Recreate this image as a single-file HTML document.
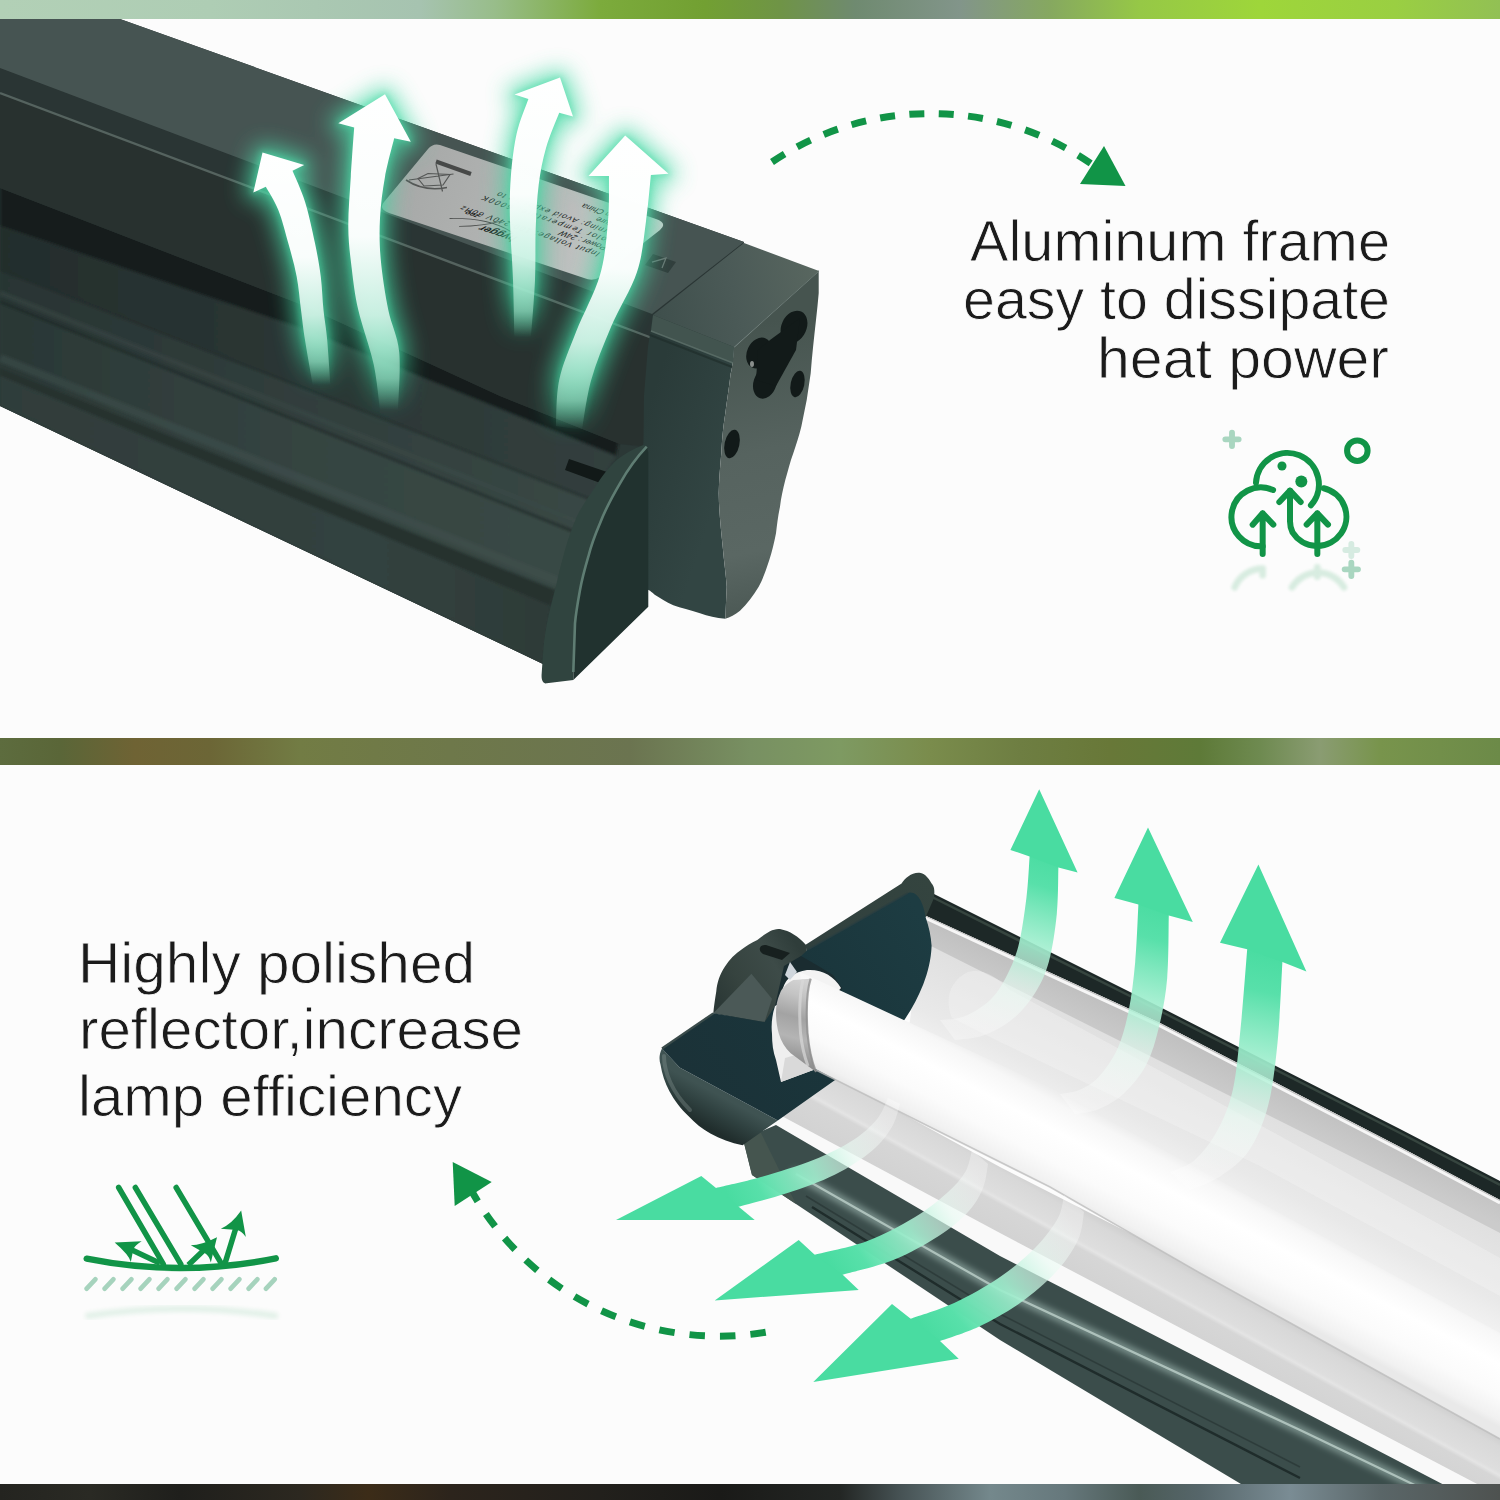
<!DOCTYPE html>
<html>
<head>
<meta charset="utf-8">
<title>Lamp features</title>
<style>
html,body{margin:0;padding:0;background:#fcfcfc;}
body{width:1500px;height:1500px;overflow:hidden;font-family:"Liberation Sans",sans-serif;}
svg{display:block;position:absolute;left:0;top:0;}
text{font-family:"Liberation Sans",sans-serif;fill:#1b1b1b;}
</style>
</head>
<body>
<svg width="1500" height="1500" viewBox="0 0 1500 1500">
<defs>
<linearGradient id="bandTop" x1="0" x2="1" y1="0" y2="0">
<stop offset="0" stop-color="#b2d0b6"/><stop offset="0.14" stop-color="#aecdb4"/><stop offset="0.28" stop-color="#a6c3b0"/>
<stop offset="0.33" stop-color="#98bd8a"/><stop offset="0.40" stop-color="#7cab3c"/><stop offset="0.47" stop-color="#72a032"/>
<stop offset="0.52" stop-color="#6f9446"/><stop offset="0.57" stop-color="#6f8a70"/><stop offset="0.64" stop-color="#82958a"/>
<stop offset="0.70" stop-color="#86a860"/><stop offset="0.76" stop-color="#96c846"/><stop offset="0.84" stop-color="#9ed63a"/>
<stop offset="0.93" stop-color="#9acf42"/><stop offset="1" stop-color="#92c054"/>
</linearGradient>
<linearGradient id="bandMid" x1="0" x2="1" y1="0" y2="0">
<stop offset="0" stop-color="#5d6c3e"/><stop offset="0.04" stop-color="#5a6638"/><stop offset="0.09" stop-color="#6f6334"/>
<stop offset="0.14" stop-color="#6c6636"/><stop offset="0.20" stop-color="#727c44"/><stop offset="0.30" stop-color="#6e784a"/>
<stop offset="0.42" stop-color="#6b7450"/><stop offset="0.50" stop-color="#789062"/><stop offset="0.56" stop-color="#7e9a62"/>
<stop offset="0.62" stop-color="#7a8c4c"/><stop offset="0.68" stop-color="#6e7e42"/><stop offset="0.74" stop-color="#687838"/>
<stop offset="0.80" stop-color="#5e7a38"/><stop offset="0.84" stop-color="#6e8a50"/><stop offset="0.88" stop-color="#8a9c72"/>
<stop offset="0.92" stop-color="#78944c"/><stop offset="1" stop-color="#6c8a48"/>
</linearGradient>
<linearGradient id="bandBot" x1="0" x2="1" y1="0" y2="0">
<stop offset="0" stop-color="#242420"/><stop offset="0.06" stop-color="#2a2a24"/><stop offset="0.12" stop-color="#1f1f1c"/>
<stop offset="0.20" stop-color="#2c2820"/><stop offset="0.245" stop-color="#3c2c18"/><stop offset="0.30" stop-color="#2c241c"/>
<stop offset="0.40" stop-color="#22201c"/><stop offset="0.48" stop-color="#1a1a18"/><stop offset="0.56" stop-color="#232624"/>
<stop offset="0.60" stop-color="#465254"/><stop offset="0.66" stop-color="#74888c"/><stop offset="0.71" stop-color="#66787c"/>
<stop offset="0.76" stop-color="#4a5a56"/><stop offset="0.80" stop-color="#56666a"/><stop offset="0.86" stop-color="#7a8c94"/>
<stop offset="0.92" stop-color="#5a6668"/><stop offset="1" stop-color="#4e5250"/>
</linearGradient>
</defs>
<rect x="0" y="0" width="1500" height="1500" fill="#fcfcfc"/>
<!-- ===== TOP LAMP ===== -->
<defs>
<linearGradient id="gA" gradientUnits="userSpaceOnUse" x1="0" y1="0" x2="620" y2="0"><stop offset="0" stop-color="#232d2c"/><stop offset="1" stop-color="#323f3d"/></linearGradient>
<linearGradient id="gB" gradientUnits="userSpaceOnUse" x1="0" y1="0" x2="620" y2="0"><stop offset="0" stop-color="#283433"/><stop offset="1" stop-color="#394845"/></linearGradient>
<linearGradient id="gC" gradientUnits="userSpaceOnUse" x1="0" y1="0" x2="620" y2="0"><stop offset="0" stop-color="#2a3735"/><stop offset="0.5" stop-color="#354441"/><stop offset="1" stop-color="#394945"/></linearGradient>
<linearGradient id="gD" gradientUnits="userSpaceOnUse" x1="0" y1="0" x2="620" y2="0"><stop offset="0" stop-color="#2f3c3a"/><stop offset="0.6" stop-color="#33423f"/><stop offset="1" stop-color="#2a3734"/></linearGradient>
<linearGradient id="capSide" gradientUnits="userSpaceOnUse" x1="730" y1="330" x2="790" y2="600"><stop offset="0" stop-color="#46544f"/><stop offset="0.45" stop-color="#56635f"/><stop offset="0.8" stop-color="#5a6763"/><stop offset="1" stop-color="#4d5a56"/></linearGradient>
<linearGradient id="capFront" gradientUnits="userSpaceOnUse" x1="650" y1="400" x2="740" y2="430"><stop offset="0" stop-color="#2a3b39"/><stop offset="1" stop-color="#324543"/></linearGradient>
<linearGradient id="capTop" gradientUnits="userSpaceOnUse" x1="655" y1="315" x2="815" y2="275"><stop offset="0" stop-color="#3f4f4c"/><stop offset="0.5" stop-color="#4b5a57"/><stop offset="1" stop-color="#58665f"/></linearGradient>
<linearGradient id="label" gradientUnits="userSpaceOnUse" x1="400" y1="170" x2="650" y2="255"><stop offset="0" stop-color="#a6a8a7"/><stop offset="0.5" stop-color="#b3b5b4"/><stop offset="1" stop-color="#cbcdcc"/></linearGradient>
<filter id="b1" x="-5%" y="-5%" width="110%" height="110%"><feGaussianBlur stdDeviation="1.6"/></filter>
<filter id="b3" x="-10%" y="-10%" width="120%" height="120%"><feGaussianBlur stdDeviation="3"/></filter>
<clipPath id="housingClip"><polygon points="0,188 300,304 500,396 620,444 646,448 618,462 595,492 579,518 567,551 558,584 550,617 545,650 543,664 0,406"/></clipPath>
</defs>
<g id="toplamp">
<polygon points="0,19 120,19 744,242 734,347 652,338 648,450 618,462 595,492 579,518 567,551 558,584 550,617 545,650 543,664 0,406" fill="#2a3534"/>
<polygon points="0,188 300,304 500,396 620,444 646,448 618,462 595,492 579,518 567,551 558,584 550,617 545,650 543,664 0,406" fill="#2b3836"/>
<g clip-path="url(#housingClip)"><g filter="url(#b1)">
<polygon points="0,178 300,294 500,386 620,434 616,456 500,409 300,328 0,226" fill="#161e1d"/>
<polygon points="0,226 300,328 500,409 616,456 590,500 0,270" fill="url(#gA)"/>
<polygon points="0,270 590,500 573,532 0,302" fill="url(#gB)"/>
<polygon points="0,302 573,532 556,590 0,368" fill="url(#gC)"/>
<polygon points="0,368 556,590 551,606 0,376" fill="#26322f"/>
<polygon points="0,376 551,606 543,664 0,406" fill="url(#gD)"/>
<path d="M0 270 L600 503" stroke="#1f2928" stroke-width="2" fill="none" opacity="0.7"/>
<path d="M0 302 L580 534" stroke="#1d2726" stroke-width="2.5" fill="none" opacity="0.8"/>
<path d="M0 293 L584 524" stroke="#3b4a48" stroke-width="5" fill="none" opacity="0.5"/>
<path d="M0 358 L560 582" stroke="#435451" stroke-width="8" fill="none" opacity="0.45"/>
</g></g>
<!-- slot near fin -->
<polygon points="569,459 607,472 603,484 565,470" fill="#121918"/>
<!-- front face -->
<polygon points="0,93 652,338 643,446 620,444 500,396 300,304 0,188" fill="#28312f"/>
<!-- lip -->
<polygon points="0,68 652,314 652,338 0,93" fill="#2a3534"/>
<path d="M0 93 L652 338" stroke="#55635f" stroke-width="2.4" fill="none"/>
<!-- top surface -->
<polygon points="0,19 120,19 744,242 652,314 0,68" fill="#465452"/>
<!-- label -->
<path d="M440 145 L656 219 Q668 223 660 230 L600 277 Q593 282 584 278 L389 213 Q378 209 384 202 L428 149 Q433 143 440 145Z" fill="url(#label)"/>
<!-- label print -->
<g transform="matrix(-0.9465 -0.3225 0.75 -0.66 592 278)" font-size="8.6" style="font-family:'Liberation Sans',sans-serif">
<text x="15" y="31" fill="#727473" textLength="146" lengthAdjust="spacing">Input Voltage: 100-240V 60Hz</text>
<text x="15" y="40.5" fill="#727473">Power : 24W</text>
<text x="15" y="50" fill="#727473" textLength="138" lengthAdjust="spacing">Color Temperature: 6000K</text>
<text x="15" y="59.5" fill="#727473" textLength="130" lengthAdjust="spacing">Warning: Avoid exposure to</text>
<text x="15" y="69" fill="#727473">moisture</text>
<text x="15" y="78.5" fill="#727473">Made in China</text>
<text x="92" y="17" font-size="11" font-weight="bold" font-style="italic" fill="#4c4e4d">hygger</text>
<text x="140" y="27" font-size="7.5" font-weight="bold" font-style="italic" fill="#4c4e4d">zoo</text>
<path d="M100 20 Q130 28 160 12 M118 29 Q128 16 146 7" stroke="#4c4e4d" stroke-width="1.1" fill="none"/>
</g>
<g stroke="#555756" fill="none" stroke-width="1.2">
<path d="M436 161.5 L471 174" stroke-width="4" stroke="#474948"/>
<path d="M436 164 L442.5 191.5 M453.5 174 L409 180"/>
<path d="M418 178.5 L428 173.5 L450 174.5 L443 185 L424 186Z"/>
<path d="M406 180 Q424 192 447 187.5" stroke-width="1.6"/>
</g>
<!-- small square embossed mark -->
<polygon points="653,254 676,262 668,273 645,265" fill="#323f3d"/>
<path d="M652 262 L666 258 L662 268" stroke="#6a7774" stroke-width="1.3" fill="none"/>
<!-- end cap front-left face -->
<path d="M653 315 L734 347 C733 360 732 370 730.7 373.3 C729 388 727 400 725.3 413.3 C723 428 722 440 721.3 453.3 C720 468 719 480 718.7 493.3 C719 512 721 530 722.7 546.7 C724 562 726 575 726.7 586.7 L725.3 618.7 C716 618 708 616 700 613.3 C690 610 681 608 673.3 605.3 C666 602 660 598 654.7 594.7 C650 591 648 588 642 590 L644 396 L648 347Z" fill="url(#capFront)"/>
<!-- end cap right face -->
<path d="M734 347 L818.7 270.7 L818.7 293.3 C818 302 817 311 816 320 C814 338 812 356 810.7 373.3 L806.7 400 L801.3 426.7 C799 436 796 445 793.3 453.3 C790 462 788 471 785.3 480 C783 489 781 498 780 506.7 C778 516 777 525 776 533.3 C774 543 772 552 769.3 560 C766 570 763 579 758.7 586.7 C753 596 747 604 740 610.7 C735 615 730 617 725.3 618.7 L726.7 586.7 C726 575 724 562 722.7 546.7 C721 530 719 512 718.7 493.3 C719 480 720 468 721.3 453.3 C722 440 723 428 725.3 413.3 C727 400 729 388 730.7 373.3 C732 370 733 360 734 347Z" fill="url(#capSide)"/>
<path d="M734 347 L818.7 270.7" stroke="#7f8d8a" stroke-width="1.2" fill="none"/>
<!-- end cap top -->
<polygon points="653,315 744,243 819,271 734,347" fill="url(#capTop)"/>
<path d="M653 315 L734 347 L733 363 L651 331Z" fill="#42544f"/>
<path d="M651 331 L733 363" stroke="#5c6f68" stroke-width="1.6" fill="none" opacity="0.85"/>
<path d="M650 335 L732 367" stroke="#1f2d2b" stroke-width="2" fill="none" opacity="0.7"/>
<!-- holes -->
<g fill="#121a19">
<ellipse cx="794" cy="327" rx="12.5" ry="17" transform="rotate(25 794 327)"/>
<ellipse cx="759" cy="353" rx="12" ry="16" transform="rotate(25 759 353)"/>
<ellipse cx="765" cy="383" rx="11.5" ry="16" transform="rotate(18 765 383)"/>
<path d="M770 340 L800 318 L796 350 L776 386 L756 380 L758 350Z"/>
<ellipse cx="797.5" cy="384" rx="6.8" ry="13.5" transform="rotate(12 797.5 384)"/>
<ellipse cx="732" cy="444" rx="7.4" ry="14.5" transform="rotate(12 732 444)"/>
</g>
<ellipse cx="752" cy="364" rx="2" ry="3" fill="#8a8f8c"/>
<!-- fin -->
<path d="M646.7 446.7 C636 458 627 471 620 483.3 C612 497 605 510 600 523.3 C595 535 591 546 588.3 556.7 C585 568 582 579 580 590 C578 601 576 612 575 623.3 L573.3 670 L573.3 680 L648.3 606.7 L648.3 452Z" fill="#21322f"/>
<path d="M643.3 445 C633 449 624 454 616.7 460 C607 469 600 479 593.3 490 C587 499 581 508 576.7 516.7 C572 528 568 539 565 550 C562 561 559 572 556.7 583.3 C554 594 551 605 548.3 616.7 C546 628 544 639 543.3 650 L541.7 673.3 C541 680 543 684 546.7 683.3 L573.3 680 L573.3 670 L575 623.3 C576 612 578 601 580 590 C582 579 585 568 588.3 556.7 C591 546 595 535 600 523.3 C605 510 612 497 620 483.3 C627 471 636 458 646.7 446.7Z" fill="#30443f"/>
<path d="M646.7 446.7 C636 458 627 471 620 483.3 C612 497 605 510 600 523.3 C595 535 591 546 588.3 556.7 C585 568 582 579 580 590 C578 601 576 612 575 623.3 L573.3 672" stroke="#5f7d73" stroke-width="2.6" fill="none"/>
</g>
<!-- ===== glowing arrows ===== -->
<defs>
<filter id="glowBlur" x="-40%" y="-15%" width="180%" height="130%"><feGaussianBlur stdDeviation="11"/></filter>
<filter id="glowBlur2" x="-40%" y="-15%" width="180%" height="130%"><feGaussianBlur stdDeviation="3"/></filter>
<linearGradient id="aw0" gradientUnits="userSpaceOnUse" x1="0" y1="152" x2="0" y2="385"><stop offset="0" stop-color="#ffffff" stop-opacity="1"/><stop offset="0.45" stop-color="#ffffff" stop-opacity="0.97"/><stop offset="0.7" stop-color="#e9fbf4" stop-opacity="0.8"/><stop offset="0.9" stop-color="#b9f0da" stop-opacity="0.5"/><stop offset="1" stop-color="#8fe6c4" stop-opacity="0"/></linearGradient>
<linearGradient id="ag0" gradientUnits="userSpaceOnUse" x1="0" y1="152" x2="0" y2="385"><stop offset="0" stop-color="#4fdcaa" stop-opacity="1"/><stop offset="0.8" stop-color="#43d3a0" stop-opacity="0.95"/><stop offset="1" stop-color="#2fcf96" stop-opacity="0"/></linearGradient>
<linearGradient id="aw1" gradientUnits="userSpaceOnUse" x1="0" y1="94" x2="0" y2="410"><stop offset="0" stop-color="#ffffff" stop-opacity="1"/><stop offset="0.45" stop-color="#ffffff" stop-opacity="0.97"/><stop offset="0.7" stop-color="#e9fbf4" stop-opacity="0.8"/><stop offset="0.9" stop-color="#b9f0da" stop-opacity="0.5"/><stop offset="1" stop-color="#8fe6c4" stop-opacity="0"/></linearGradient>
<linearGradient id="ag1" gradientUnits="userSpaceOnUse" x1="0" y1="94" x2="0" y2="410"><stop offset="0" stop-color="#4fdcaa" stop-opacity="1"/><stop offset="0.8" stop-color="#43d3a0" stop-opacity="0.95"/><stop offset="1" stop-color="#2fcf96" stop-opacity="0"/></linearGradient>
<linearGradient id="aw2" gradientUnits="userSpaceOnUse" x1="0" y1="78" x2="0" y2="337"><stop offset="0" stop-color="#ffffff" stop-opacity="1"/><stop offset="0.45" stop-color="#ffffff" stop-opacity="0.97"/><stop offset="0.7" stop-color="#e9fbf4" stop-opacity="0.8"/><stop offset="0.9" stop-color="#b9f0da" stop-opacity="0.5"/><stop offset="1" stop-color="#8fe6c4" stop-opacity="0"/></linearGradient>
<linearGradient id="ag2" gradientUnits="userSpaceOnUse" x1="0" y1="78" x2="0" y2="337"><stop offset="0" stop-color="#4fdcaa" stop-opacity="1"/><stop offset="0.8" stop-color="#43d3a0" stop-opacity="0.95"/><stop offset="1" stop-color="#2fcf96" stop-opacity="0"/></linearGradient>
<linearGradient id="aw3" gradientUnits="userSpaceOnUse" x1="0" y1="136" x2="0" y2="430"><stop offset="0" stop-color="#ffffff" stop-opacity="1"/><stop offset="0.45" stop-color="#ffffff" stop-opacity="0.97"/><stop offset="0.7" stop-color="#e9fbf4" stop-opacity="0.8"/><stop offset="0.9" stop-color="#b9f0da" stop-opacity="0.5"/><stop offset="1" stop-color="#8fe6c4" stop-opacity="0"/></linearGradient>
<linearGradient id="ag3" gradientUnits="userSpaceOnUse" x1="0" y1="136" x2="0" y2="430"><stop offset="0" stop-color="#4fdcaa" stop-opacity="1"/><stop offset="0.8" stop-color="#43d3a0" stop-opacity="0.95"/><stop offset="1" stop-color="#2fcf96" stop-opacity="0"/></linearGradient>
</defs>
<g id="glowArrows">
<g filter="url(#glowBlur)" opacity="0.8">
<path d="M265.8 186.7 C267.9 190.6 274.6 200.6 278.3 210.0 C282.1 219.4 285.2 232.2 288.3 243.3 C291.4 254.4 294.6 265.6 296.7 276.7 C298.8 287.8 299.6 299.4 301.0 310.0 C302.4 320.6 303.0 327.5 305.0 340.0 C307.0 352.5 311.5 377.5 312.8 385.0 L330.4 385.0 C329.9 377.5 328.3 352.5 327.2 340.0 C326.1 327.5 324.6 320.6 323.5 310.0 C322.4 299.4 322.2 287.8 320.8 276.7 C319.4 265.6 317.6 255.8 315.0 243.3 C312.4 230.8 308.8 213.8 305.0 201.7 C301.2 189.6 294.6 176.0 292.5 170.8 L292.5 170.8 L304.2 165.0 L262.5 152.5 L253.3 192.5 L265.8 186.7Z" fill="url(#ag0)" stroke="url(#ag0)" stroke-width="16" stroke-linejoin="round"/>
<path d="M354.2 127.5 C353.6 135.7 351.8 160.2 350.8 176.7 C349.8 193.2 348.2 211.4 348.3 226.7 C348.4 242.0 350.0 254.4 351.7 268.3 C353.4 282.2 354.6 294.1 358.3 310.0 C362.0 325.9 370.0 347.3 373.6 364.0 C377.2 380.7 378.9 402.3 380.0 410.0 L398.0 410.0 C398.2 400.3 400.8 368.7 399.2 352.0 C397.6 335.3 391.4 325.3 388.3 310.0 C385.2 294.7 382.2 275.3 380.8 260.0 C379.4 244.7 379.3 232.2 380.0 218.3 C380.7 204.4 382.6 190.0 385.0 176.7 C387.4 163.4 392.7 144.7 394.2 138.3 L394.2 138.3 L410.8 141.7 L385.0 94.2 L338.3 123.3 L354.2 127.5Z" fill="url(#ag1)" stroke="url(#ag1)" stroke-width="16" stroke-linejoin="round"/>
<path d="M528.4 98.9 C526.5 104.6 519.6 120.2 516.7 133.3 C513.8 146.4 511.9 162.6 510.8 177.3 C509.7 192.0 509.6 204.2 510.0 221.3 C510.4 238.4 512.3 260.7 513.0 280.0 C513.7 299.3 514.2 327.5 514.4 337.0 L531.0 337.0 C531.7 327.5 534.2 298.1 535.0 280.0 C535.8 261.9 535.1 244.6 535.7 228.7 C536.3 212.8 537.0 198.1 538.7 184.7 C540.4 171.2 542.6 160.0 546.0 148.0 C549.4 136.0 557.0 118.7 559.2 112.8 L559.2 112.8 L573.0 116.5 L560.0 77.6 L514.5 94.5 L528.4 98.9Z" fill="url(#ag2)" stroke="url(#ag2)" stroke-width="16" stroke-linejoin="round"/>
<path d="M609.0 175.9 C608.8 183.5 609.5 204.8 608.0 221.3 C606.5 237.8 605.3 256.6 600.0 275.0 C594.7 293.4 582.8 314.5 576.0 332.0 C569.2 349.5 562.5 364.3 559.2 380.0 C555.9 395.7 556.5 418.3 556.0 426.0 L582.0 430.0 C583.5 421.7 586.4 397.2 591.2 380.0 C596.0 362.8 603.4 345.0 611.0 327.0 C618.6 309.0 631.2 289.6 637.0 272.0 C642.8 254.4 643.7 237.5 646.0 221.3 C648.3 205.2 650.1 182.8 650.9 175.1 L650.9 175.1 L668.5 173.7 L625.2 135.5 L588.5 175.9 L609.0 175.9Z" fill="url(#ag3)" stroke="url(#ag3)" stroke-width="16" stroke-linejoin="round"/>
</g>
<g filter="url(#glowBlur2)" opacity="0.5">
<path d="M265.8 186.7 C267.9 190.6 274.6 200.6 278.3 210.0 C282.1 219.4 285.2 232.2 288.3 243.3 C291.4 254.4 294.6 265.6 296.7 276.7 C298.8 287.8 299.6 299.4 301.0 310.0 C302.4 320.6 303.0 327.5 305.0 340.0 C307.0 352.5 311.5 377.5 312.8 385.0 L330.4 385.0 C329.9 377.5 328.3 352.5 327.2 340.0 C326.1 327.5 324.6 320.6 323.5 310.0 C322.4 299.4 322.2 287.8 320.8 276.7 C319.4 265.6 317.6 255.8 315.0 243.3 C312.4 230.8 308.8 213.8 305.0 201.7 C301.2 189.6 294.6 176.0 292.5 170.8 L292.5 170.8 L304.2 165.0 L262.5 152.5 L253.3 192.5 L265.8 186.7Z" fill="url(#ag0)" stroke="url(#ag0)" stroke-width="4" stroke-linejoin="round"/>
<path d="M354.2 127.5 C353.6 135.7 351.8 160.2 350.8 176.7 C349.8 193.2 348.2 211.4 348.3 226.7 C348.4 242.0 350.0 254.4 351.7 268.3 C353.4 282.2 354.6 294.1 358.3 310.0 C362.0 325.9 370.0 347.3 373.6 364.0 C377.2 380.7 378.9 402.3 380.0 410.0 L398.0 410.0 C398.2 400.3 400.8 368.7 399.2 352.0 C397.6 335.3 391.4 325.3 388.3 310.0 C385.2 294.7 382.2 275.3 380.8 260.0 C379.4 244.7 379.3 232.2 380.0 218.3 C380.7 204.4 382.6 190.0 385.0 176.7 C387.4 163.4 392.7 144.7 394.2 138.3 L394.2 138.3 L410.8 141.7 L385.0 94.2 L338.3 123.3 L354.2 127.5Z" fill="url(#ag1)" stroke="url(#ag1)" stroke-width="4" stroke-linejoin="round"/>
<path d="M528.4 98.9 C526.5 104.6 519.6 120.2 516.7 133.3 C513.8 146.4 511.9 162.6 510.8 177.3 C509.7 192.0 509.6 204.2 510.0 221.3 C510.4 238.4 512.3 260.7 513.0 280.0 C513.7 299.3 514.2 327.5 514.4 337.0 L531.0 337.0 C531.7 327.5 534.2 298.1 535.0 280.0 C535.8 261.9 535.1 244.6 535.7 228.7 C536.3 212.8 537.0 198.1 538.7 184.7 C540.4 171.2 542.6 160.0 546.0 148.0 C549.4 136.0 557.0 118.7 559.2 112.8 L559.2 112.8 L573.0 116.5 L560.0 77.6 L514.5 94.5 L528.4 98.9Z" fill="url(#ag2)" stroke="url(#ag2)" stroke-width="4" stroke-linejoin="round"/>
<path d="M609.0 175.9 C608.8 183.5 609.5 204.8 608.0 221.3 C606.5 237.8 605.3 256.6 600.0 275.0 C594.7 293.4 582.8 314.5 576.0 332.0 C569.2 349.5 562.5 364.3 559.2 380.0 C555.9 395.7 556.5 418.3 556.0 426.0 L582.0 430.0 C583.5 421.7 586.4 397.2 591.2 380.0 C596.0 362.8 603.4 345.0 611.0 327.0 C618.6 309.0 631.2 289.6 637.0 272.0 C642.8 254.4 643.7 237.5 646.0 221.3 C648.3 205.2 650.1 182.8 650.9 175.1 L650.9 175.1 L668.5 173.7 L625.2 135.5 L588.5 175.9 L609.0 175.9Z" fill="url(#ag3)" stroke="url(#ag3)" stroke-width="4" stroke-linejoin="round"/>
</g>
<path d="M265.8 186.7 C267.9 190.6 274.6 200.6 278.3 210.0 C282.1 219.4 285.2 232.2 288.3 243.3 C291.4 254.4 294.6 265.6 296.7 276.7 C298.8 287.8 299.6 299.4 301.0 310.0 C302.4 320.6 303.0 327.5 305.0 340.0 C307.0 352.5 311.5 377.5 312.8 385.0 L330.4 385.0 C329.9 377.5 328.3 352.5 327.2 340.0 C326.1 327.5 324.6 320.6 323.5 310.0 C322.4 299.4 322.2 287.8 320.8 276.7 C319.4 265.6 317.6 255.8 315.0 243.3 C312.4 230.8 308.8 213.8 305.0 201.7 C301.2 189.6 294.6 176.0 292.5 170.8 L292.5 170.8 L304.2 165.0 L262.5 152.5 L253.3 192.5 L265.8 186.7Z" fill="url(#aw0)"/>
<path d="M354.2 127.5 C353.6 135.7 351.8 160.2 350.8 176.7 C349.8 193.2 348.2 211.4 348.3 226.7 C348.4 242.0 350.0 254.4 351.7 268.3 C353.4 282.2 354.6 294.1 358.3 310.0 C362.0 325.9 370.0 347.3 373.6 364.0 C377.2 380.7 378.9 402.3 380.0 410.0 L398.0 410.0 C398.2 400.3 400.8 368.7 399.2 352.0 C397.6 335.3 391.4 325.3 388.3 310.0 C385.2 294.7 382.2 275.3 380.8 260.0 C379.4 244.7 379.3 232.2 380.0 218.3 C380.7 204.4 382.6 190.0 385.0 176.7 C387.4 163.4 392.7 144.7 394.2 138.3 L394.2 138.3 L410.8 141.7 L385.0 94.2 L338.3 123.3 L354.2 127.5Z" fill="url(#aw1)"/>
<path d="M528.4 98.9 C526.5 104.6 519.6 120.2 516.7 133.3 C513.8 146.4 511.9 162.6 510.8 177.3 C509.7 192.0 509.6 204.2 510.0 221.3 C510.4 238.4 512.3 260.7 513.0 280.0 C513.7 299.3 514.2 327.5 514.4 337.0 L531.0 337.0 C531.7 327.5 534.2 298.1 535.0 280.0 C535.8 261.9 535.1 244.6 535.7 228.7 C536.3 212.8 537.0 198.1 538.7 184.7 C540.4 171.2 542.6 160.0 546.0 148.0 C549.4 136.0 557.0 118.7 559.2 112.8 L559.2 112.8 L573.0 116.5 L560.0 77.6 L514.5 94.5 L528.4 98.9Z" fill="url(#aw2)"/>
<path d="M609.0 175.9 C608.8 183.5 609.5 204.8 608.0 221.3 C606.5 237.8 605.3 256.6 600.0 275.0 C594.7 293.4 582.8 314.5 576.0 332.0 C569.2 349.5 562.5 364.3 559.2 380.0 C555.9 395.7 556.5 418.3 556.0 426.0 L582.0 430.0 C583.5 421.7 586.4 397.2 591.2 380.0 C596.0 362.8 603.4 345.0 611.0 327.0 C618.6 309.0 631.2 289.6 637.0 272.0 C642.8 254.4 643.7 237.5 646.0 221.3 C648.3 205.2 650.1 182.8 650.9 175.1 L650.9 175.1 L668.5 173.7 L625.2 135.5 L588.5 175.9 L609.0 175.9Z" fill="url(#aw3)"/>
</g>
<!-- ===== BOTTOM LAMP ===== -->
<defs>
<linearGradient id="bBackWall" gradientUnits="userSpaceOnUse" x1="1100" y1="1031" x2="1060" y2="1110">
<stop offset="0" stop-color="#e0e0e0"/><stop offset="0.7" stop-color="#e9e9e9"/><stop offset="1" stop-color="#f1f1f1"/>
</linearGradient>
<linearGradient id="bGrayFacet" gradientUnits="userSpaceOnUse" x1="1100" y1="996" x2="1084" y2="1030">
<stop offset="0" stop-color="#bfbfbf"/><stop offset="1" stop-color="#cbcbcb"/>
</linearGradient>
<linearGradient id="bTube" gradientUnits="userSpaceOnUse" x1="1000" y1="1063" x2="958" y2="1143">
<stop offset="0" stop-color="#eeeeee"/><stop offset="0.1" stop-color="#f7f7f7"/><stop offset="0.38" stop-color="#ffffff"/><stop offset="0.7" stop-color="#fbfbfb"/><stop offset="0.93" stop-color="#f1f1f1"/><stop offset="1" stop-color="#e9e9e9"/>
</linearGradient>
<linearGradient id="bFrontWall" gradientUnits="userSpaceOnUse" x1="1000" y1="1162" x2="968" y2="1220">
<stop offset="0" stop-color="#cfcfcf"/><stop offset="0.12" stop-color="#d8d8d8"/><stop offset="0.45" stop-color="#dedede"/><stop offset="0.5" stop-color="#e4e4e4"/><stop offset="0.56" stop-color="#d6d6d6"/><stop offset="1" stop-color="#d2d2d2"/>
</linearGradient>
<linearGradient id="bRail" gradientUnits="userSpaceOnUse" x1="1020" y1="1250" x2="978" y2="1340">
<stop offset="0" stop-color="#2f403f"/><stop offset="0.25" stop-color="#3c4f4d"/><stop offset="0.40" stop-color="#8fa5a0"/><stop offset="0.46" stop-color="#50645f"/><stop offset="0.6" stop-color="#3b4c4a"/>
<stop offset="0.8" stop-color="#374846"/><stop offset="0.84" stop-color="#1f2c2b"/><stop offset="0.88" stop-color="#334442"/><stop offset="1" stop-color="#2f3f3d"/>
</linearGradient>
<linearGradient id="bCapMetal" gradientUnits="userSpaceOnUse" x1="806" y1="982" x2="784" y2="1060">
<stop offset="0" stop-color="#d2d2d2"/><stop offset="0.18" stop-color="#c4c4c4"/><stop offset="0.45" stop-color="#a3a3a3"/><stop offset="0.7" stop-color="#b4b4b4"/><stop offset="1" stop-color="#8e8e8e"/>
</linearGradient>
</defs>
<g id="botlamp">
<!-- back rail -->
<polygon points="930,892 1160,1007 1400,1129 1500,1181 1500,1200 1400,1147 1160,1023 924,915" fill="#1d2827"/>
<path d="M932 897 L1160 1011 L1400 1133 L1500 1185" stroke="#36453f" stroke-width="2.5" fill="none"/>
<!-- inner back wall: light facet -->
<polygon points="924,915 1160,1023 1400,1147 1500,1200 1500,1390 1260,1250 1000,1120 906,1050" fill="url(#bBackWall)"/>
<!-- gray facet -->
<polygon points="924,915 1160,1023 1400,1147 1500,1200 1500,1233 1400,1181 1100,1031 927,944" fill="url(#bGrayFacet)"/>
<path d="M925 918 L1160 1026 L1400 1150 L1500 1203" stroke="#f6f6f6" stroke-width="3" fill="none"/>
<!-- ghost reflection of tube on back wall -->
<path d="M968 972 C950 980 944 1000 952 1018 L1000 1042 L1260 1166 L1500 1296 L1500 1258 L1240 1114 L1010 990 C996 976 982 968 968 972Z" fill="#f5f5f5" opacity="0.38"/>
<!-- inner front wall -->
<polygon points="784,1049 1000,1167 1300,1320 1500,1423 1500,1500 1300,1394 1000,1236 780,1117 770,1090" fill="url(#bFrontWall)"/>
<!-- white strip -->
<polygon points="778,1114 1000,1233 1300,1391 1500,1496 1500,1514 1300,1410 1000,1256 774,1126" fill="#f9f9f9"/>
<!-- front rail -->
<polygon points="743,1139 776,1125 1000,1256 1300,1410 1500,1514 1500,1600 1246,1487 1000,1340 796,1204 752,1175" fill="#3b4d4b"/>
<g filter="url(#b3)"><path d="M792 1172 L1000 1290 L1300 1430 L1500 1526" stroke="#8da6a0" stroke-width="9" fill="none" opacity="0.75"/></g>
<path d="M796 1174 L1000 1290 L1300 1430 L1500 1526" stroke="#b9cbc6" stroke-width="2.2" fill="none" opacity="0.85"/>
<path d="M812 1207 L1000 1324 L1300 1478" stroke="#1f2c2b" stroke-width="2.4" fill="none"/>
<path d="M806 1196 L1000 1314 L1300 1467" stroke="#2a3837" stroke-width="1.6" fill="none" opacity="0.8"/>
<polygon points="743,1139 760,1131 796,1204 752,1175" fill="#45554f"/>
</g>
<!-- ===== bottom lamp end piece ===== -->
<defs>
<linearGradient id="ePlate" gradientUnits="userSpaceOnUse" x1="690" y1="1080" x2="930" y2="930">
<stop offset="0" stop-color="#1b3238"/><stop offset="0.5" stop-color="#1a353b"/><stop offset="1" stop-color="#1d3c42"/>
</linearGradient>
<linearGradient id="eSocket" gradientUnits="userSpaceOnUse" x1="716" y1="1000" x2="800" y2="950">
<stop offset="0" stop-color="#2b3836"/><stop offset="0.3" stop-color="#36433f"/><stop offset="0.7" stop-color="#3d4b48"/><stop offset="1" stop-color="#2f3d3a"/>
</linearGradient>
<linearGradient id="eRim" gradientUnits="userSpaceOnUse" x1="660" y1="1100" x2="930" y2="880">
<stop offset="0" stop-color="#2a3a39"/><stop offset="0.5" stop-color="#2f3f3e"/><stop offset="1" stop-color="#34443f"/>
</linearGradient>
<linearGradient id="eLobe" gradientUnits="userSpaceOnUse" x1="700" y1="1085" x2="684" y2="1115">
<stop offset="0" stop-color="#3f5352"/><stop offset="0.45" stop-color="#304241"/><stop offset="1" stop-color="#202d2c"/>
</linearGradient>
</defs>
<g id="endpiece">
<!-- rim right piece -->
<path d="M934 898 C935 890 934 886 931.6 883.6 C928 876 922 872 918.4 872.8 C911 873 905 878 901.6 883.6 L805.6 944.8 L808 962.8 L911.2 900.4 L925.6 917.2Z" fill="url(#eRim)"/>
<!-- left lobe: rail end wrap -->
<path d="M662 1048.5 C659 1054 659 1060 660.5 1064.6 C662 1074 665 1083 669.3 1091 C674 1100 681 1109 688.4 1116 C695 1123 702 1129 710.4 1133.5 C720 1139 731 1143 742.6 1145.3 L777.8 1120.4 L679.6 1067.6Z" fill="url(#eLobe)"/>
<path d="M664 1056 C664 1072 672 1092 690 1110" stroke="#8d9a97" stroke-width="4" fill="none" opacity="0.35" stroke-linecap="round"/>
<!-- socket cylinder -->
<path d="M806 945 C798 936 790 931 780 929 C772 928 764 935 757.3 940 C751 943 746 946 742.6 948.8 C735 954 729 960 725 966.4 C720 974 717 982 716.3 991.3 C715 999 714 1006 713.3 1013.3 L745.6 1020 L766 1025 L779 1005 L808 962.8Z" fill="url(#eSocket)"/>
<path d="M713.3 1013.3 L751.4 973.7 L772 998.7 L764.6 1022Z" fill="#4b5957"/>
<path d="M766 945 C760 944 757 950 763 954 L782 960 L790 953Z" fill="#17201f"/>
<!-- plate face -->
<path d="M908 893 C918 890 924 905 925.6 917.2 C929 927 931 936 931.6 946 C931 960 928 972 923.2 984.4 C918 997 912 1009 904 1020.4 L870.4 1056.4 L834.4 1080.4 L777.8 1120.4 L679.6 1067.6 L667 1054 L662 1048.5 L713.3 1013.3 L764.6 1022 L775 1006 L801 956 L808 949.5Z" fill="url(#ePlate)"/>
<path d="M662 1048.5 L713.3 1013.3" stroke="#3a4b4a" stroke-width="2.2" fill="none"/>
<path d="M908 893 L808 949.5" stroke="#2a3f41" stroke-width="2" fill="none" opacity="0.8"/>
<!-- notch: dark gap behind -->
<path d="M801 956 L784 966 L775 1006 L772 1034 L776 1060 L781 1082 L816 1069 L842 988 L833 975 L820 967Z" fill="#1a2c30"/>
<!-- white wedge at bottom-left of cap -->
<path d="M775 1006 C772 1015 771 1025 772 1034 C772 1043 773 1052 776 1060 L781 1082 L816 1069 L800 1030 L786 1000Z" fill="#efefef"/>
<path d="M781 1082 L816 1069 L806 1052 L785 1058Z" fill="#d9d9d9"/>
<!-- white insulator crescent -->
<path d="M783 988 C786 978 794 972 807 970 C822 969 834 976 841 988 L834 996 C826 984 816 980 806 981 C798 982 792 988 789 996Z" fill="#f3f3f3"/>
<path d="M785 975 L790 962 L797 972 L790 980Z" fill="#cfd6dc"/>
</g>
<!-- tube -->
<g id="tube">
<polygon points="800,972 850,995 1050,1088 1200,1170 1500,1333 1500,1439 1200,1273 1050,1187 850,1087 806,1064" fill="url(#bTube)"/>
<path d="M816 1070 L850 1087 L1050 1187 L1200 1273 L1500 1439" stroke="#bdbdbd" stroke-width="1.6" fill="none" opacity="0.8"/>
<!-- metal cap -->
<path d="M793.3 980 C786 984 782 988 780 993.3 C777 1000 776 1006 776 1013.3 C776 1020 777 1027 778.7 1033.3 C781 1041 785 1048 790.7 1053.3 L816 1072 C812 1060 809 1046 808 1033 C807 1020 807 1006 808 993 C809 988 810 983 810.7 978.7Z" fill="url(#bCapMetal)"/>
<path d="M810.7 978.7 C807 990 806 1010 807.5 1033 C809 1050 812 1062 816 1072" stroke="#8d8d8d" stroke-width="2.2" fill="none" opacity="0.75"/>
<path d="M803 979.5 C800 992 799 1012 800.5 1033 C802 1048 805 1058 808 1066" stroke="#d9d9d9" stroke-width="3" fill="none" opacity="0.7"/>
</g>
<!-- ===== green arrows bottom ===== -->
<defs>
<linearGradient id="ba0" gradientUnits="userSpaceOnUse" x1="1039" y1="850" x2="985" y2="1030"><stop offset="0" stop-color="#49dca1" stop-opacity="1"/><stop offset="0.18" stop-color="#58e0aa" stop-opacity="1"/><stop offset="0.5" stop-color="#a4efd0" stop-opacity="0.9"/><stop offset="0.75" stop-color="#e9fbf3" stop-opacity="0.62"/><stop offset="1" stop-color="#ffffff" stop-opacity="0.3"/></linearGradient>
<linearGradient id="ba1" gradientUnits="userSpaceOnUse" x1="1150" y1="900" x2="1100" y2="1100"><stop offset="0" stop-color="#49dca1" stop-opacity="1"/><stop offset="0.18" stop-color="#58e0aa" stop-opacity="1"/><stop offset="0.5" stop-color="#a4efd0" stop-opacity="0.9"/><stop offset="0.75" stop-color="#e9fbf3" stop-opacity="0.62"/><stop offset="1" stop-color="#ffffff" stop-opacity="0.3"/></linearGradient>
<linearGradient id="ba2" gradientUnits="userSpaceOnUse" x1="1262" y1="950" x2="1215" y2="1170"><stop offset="0" stop-color="#49dca1" stop-opacity="1"/><stop offset="0.18" stop-color="#58e0aa" stop-opacity="1"/><stop offset="0.5" stop-color="#a4efd0" stop-opacity="0.9"/><stop offset="0.75" stop-color="#e9fbf3" stop-opacity="0.62"/><stop offset="1" stop-color="#ffffff" stop-opacity="0.3"/></linearGradient>
<linearGradient id="ba3" gradientUnits="userSpaceOnUse" x1="730" y1="1200" x2="885" y2="1120"><stop offset="0" stop-color="#49dca1" stop-opacity="1"/><stop offset="0.18" stop-color="#58e0aa" stop-opacity="1"/><stop offset="0.5" stop-color="#a4efd0" stop-opacity="0.9"/><stop offset="0.75" stop-color="#e9fbf3" stop-opacity="0.62"/><stop offset="1" stop-color="#ffffff" stop-opacity="0.3"/></linearGradient>
<linearGradient id="ba4" gradientUnits="userSpaceOnUse" x1="830" y1="1265" x2="975" y2="1170"><stop offset="0" stop-color="#49dca1" stop-opacity="1"/><stop offset="0.18" stop-color="#58e0aa" stop-opacity="1"/><stop offset="0.5" stop-color="#a4efd0" stop-opacity="0.9"/><stop offset="0.75" stop-color="#e9fbf3" stop-opacity="0.62"/><stop offset="1" stop-color="#ffffff" stop-opacity="0.3"/></linearGradient>
<linearGradient id="ba5" gradientUnits="userSpaceOnUse" x1="925" y1="1330" x2="1068" y2="1215"><stop offset="0" stop-color="#49dca1" stop-opacity="1"/><stop offset="0.18" stop-color="#58e0aa" stop-opacity="1"/><stop offset="0.5" stop-color="#a4efd0" stop-opacity="0.9"/><stop offset="0.75" stop-color="#e9fbf3" stop-opacity="0.62"/><stop offset="1" stop-color="#ffffff" stop-opacity="0.3"/></linearGradient>
</defs>
<g id="greenArrows">
<path d="M1030.8 848.3 L1029.6 856.4 C1029.1 863.3 1028.3 883.1 1026.4 898.0 C1024.5 912.9 1021.9 932.7 1018.4 946.0 C1014.9 959.3 1010.4 968.9 1005.6 978.0 C1000.8 987.1 996.5 994.0 989.6 1000.4 C982.7 1006.8 972.3 1013.1 964.0 1016.4 C955.7 1019.7 944.0 1019.4 940.0 1020.0 L955.0 1040.0 C959.7 1039.3 973.7 1039.0 983.2 1035.6 C992.7 1032.2 1003.5 1026.5 1012.0 1019.6 C1020.5 1012.7 1028.3 1003.6 1034.4 994.0 C1040.5 984.4 1045.1 975.3 1048.8 962.0 C1052.5 948.7 1055.2 929.7 1056.8 914.0 C1058.4 898.3 1058.1 875.3 1058.4 867.6 L1056.1 858.2Z" fill="url(#ba0)"/>
<polygon points="1029.6,856.4 1010.4,850.0 1039.2,789.2 1077.6,872.4 1058.4,867.6" fill="#49dca1"/>
<path d="M1139.6 895.2 L1138.4 904.4 C1137.9 914.0 1136.8 944.4 1135.2 962.0 C1133.6 979.6 1131.7 995.6 1128.8 1010.0 C1125.9 1024.4 1122.7 1037.2 1117.6 1048.4 C1112.5 1059.6 1104.8 1070.3 1098.4 1077.2 C1092.0 1084.1 1085.6 1087.2 1079.2 1090.0 C1072.8 1092.8 1063.2 1093.3 1060.0 1094.0 L1075.0 1114.0 C1078.9 1113.2 1090.2 1112.7 1098.4 1109.2 C1106.6 1105.7 1116.0 1100.7 1124.0 1093.2 C1132.0 1085.7 1140.5 1075.6 1146.4 1064.4 C1152.3 1053.2 1155.7 1040.4 1159.2 1026.0 C1162.7 1011.6 1165.6 996.4 1167.2 978.0 C1168.8 959.6 1168.5 926.0 1168.8 915.6 L1166.3 905.0Z" fill="url(#ba1)"/>
<polygon points="1138.4,904.4 1114.4,898.0 1148.0,827.6 1192.8,922.0 1168.8,915.6" fill="#49dca1"/>
<path d="M1248.5 939.0 L1247.2 949.2 C1246.1 962.0 1243.2 1002.5 1240.8 1026.0 C1238.4 1049.5 1236.8 1072.4 1232.8 1090.0 C1228.8 1107.6 1223.2 1119.9 1216.8 1131.6 C1210.4 1143.3 1202.2 1153.7 1194.4 1160.4 C1186.6 1167.1 1174.1 1170.1 1170.0 1172.0 L1190.0 1190.0 C1195.0 1187.7 1210.2 1182.9 1220.0 1176.4 C1229.8 1169.9 1240.8 1162.5 1248.8 1150.8 C1256.8 1139.1 1263.2 1124.1 1268.0 1106.0 C1272.8 1087.9 1275.2 1066.0 1277.6 1042.0 C1280.0 1018.0 1281.6 975.3 1282.4 962.0 L1279.5 950.3Z" fill="url(#ba2)"/>
<polygon points="1247.2,949.2 1220.0,942.8 1258.4,864.4 1306.4,971.6 1282.4,962.0" fill="#49dca1"/>
<path d="M704.0 1191.8 L716.0 1188.0 C723.3 1186.2 743.8 1182.0 760.0 1177.3 C776.2 1172.6 797.8 1166.2 813.3 1160.0 C828.8 1153.8 842.6 1146.9 853.3 1140.0 C864.0 1133.1 871.5 1125.7 877.3 1118.7 C883.1 1111.7 886.2 1101.5 888.0 1098.0 L900.0 1104.0 C898.7 1107.8 896.7 1118.9 892.0 1126.7 C887.3 1134.5 881.5 1142.7 872.0 1150.7 C862.5 1158.7 848.9 1167.6 834.7 1174.7 C820.5 1181.8 802.7 1188.0 786.7 1193.3 C770.7 1198.6 746.7 1204.5 738.7 1206.7 L724.0 1208.3Z" fill="url(#ba3)"/>
<polygon points="716.0,1188.0 701.3,1176.0 616.0,1220.0 754.7,1220.0 738.7,1206.7" fill="#49dca1"/>
<path d="M802.7 1260.2 L814.7 1254.7 C823.4 1252.5 850.0 1247.5 866.7 1241.3 C883.4 1235.1 901.4 1225.3 914.7 1217.3 C928.0 1209.3 938.3 1200.8 946.7 1193.3 C955.1 1185.8 961.1 1179.2 965.3 1172.0 C969.5 1164.8 970.9 1153.7 972.0 1150.0 L988.0 1164.0 C987.2 1168.0 986.3 1180.0 983.0 1188.0 C979.7 1196.0 975.4 1204.0 968.0 1212.0 C960.6 1220.0 951.2 1228.0 938.7 1236.0 C926.2 1244.0 909.3 1253.5 893.3 1260.0 C877.3 1266.5 851.1 1272.2 842.7 1274.7 L827.3 1277.8Z" fill="url(#ba4)"/>
<polygon points="814.7,1254.7 798.7,1240.0 714.7,1300.5 858.7,1289.9 842.7,1274.7" fill="#49dca1"/>
<path d="M899.0 1326.3 L910.7 1318.7 C918.0 1316.0 939.8 1309.7 954.7 1302.7 C969.6 1295.8 986.6 1286.1 1000.0 1277.0 C1013.4 1267.9 1025.3 1257.8 1035.0 1248.0 C1044.7 1238.2 1053.2 1226.8 1058.0 1218.0 C1062.8 1209.2 1063.0 1198.8 1064.0 1195.0 L1084.0 1212.0 C1083.0 1216.7 1082.7 1230.0 1078.0 1240.0 C1073.3 1250.0 1065.7 1261.5 1056.0 1272.0 C1046.3 1282.5 1032.9 1293.9 1020.0 1303.0 C1007.1 1312.1 992.0 1320.4 978.7 1326.7 C965.4 1333.0 946.5 1338.6 940.0 1341.0 L924.8 1345.9Z" fill="url(#ba5)"/>
<polygon points="910.7,1318.7 892.0,1304.0 813.3,1382.0 958.7,1358.7 940.0,1341.0" fill="#49dca1"/>
</g>
<!-- ===== text ===== -->
<g font-size="57" stroke="#fcfcfc" stroke-width="0.8">
<text x="970" y="261" textLength="420" lengthAdjust="spacingAndGlyphs">Aluminum frame</text>
<text x="963" y="319" textLength="427" lengthAdjust="spacingAndGlyphs">easy to dissipate</text>
<text x="1097" y="378" textLength="292" lengthAdjust="spacingAndGlyphs">heat power</text>
<text x="78" y="983" textLength="397" lengthAdjust="spacingAndGlyphs">Highly polished</text>
<text x="79" y="1049" textLength="444" lengthAdjust="spacingAndGlyphs">reflector,increase</text>
<text x="78" y="1116" textLength="384" lengthAdjust="spacingAndGlyphs">lamp efficiency</text>
</g>
<!-- ===== dotted arrows ===== -->
<path d="M772 162 A283 283 0 0 1 1093 165" fill="none" stroke="#119447" stroke-width="7" stroke-dasharray="15 14.4"/>
<polygon points="1104,146 1125.5,186 1080,184" fill="#119447"/>
<path d="M470 1188 A283 283 0 0 0 767 1332" fill="none" stroke="#119447" stroke-width="7" stroke-dasharray="15.5 15"/>
<polygon points="452.7,1162 491.7,1182 454.7,1206" fill="#119447"/>
<defs><filter id="icoBlur" x="-20%" y="-50%" width="140%" height="200%"><feGaussianBlur stdDeviation="12"/></filter></defs>
<!-- ===== tree icon ===== -->
<g transform="translate(1200,410) scale(0.13333)" fill="none" stroke="#119447" stroke-width="45" stroke-linecap="round" stroke-linejoin="round">
<path d="M420 545 A236 236 0 1 1 832 715"/>
<path d="M548 600 A221 221 0 1 0 470 1022"/>
<path d="M928 587 A219 219 0 1 1 694 918 Q675 880 675 835 L675 605"/>
<path d="M470 1080 L470 775 M395 860 L470 775 L550 860"/>
<path d="M880 1080 L880 775 M800 860 L880 775 L960 860"/>
<path d="M595 690 L675 605 L755 690"/>
<circle cx="615" cy="420" r="34" fill="#119447" stroke="none"/><circle cx="760" cy="537" r="45" fill="#119447" stroke="none"/>
<circle cx="1180" cy="305" r="77"/>
<g stroke="#a9d6c0" stroke-width="44" stroke-linecap="round">
<path d="M240 170 V270 M190 220 H290"/>
<path d="M1135 1145 V1245 M1085 1195 H1185"/>
<path d="M1135 1005 V1095 M1090 1050 H1180" opacity="0.45"/>
</g>
<g opacity="0.15" stroke-width="50" filter="url(#icoBlur)">
<path d="M260 1330 A228 228 0 0 1 470 1190 L470 1240"/>
<path d="M690 1330 A228 228 0 0 1 1080 1330 M880 1180 V1250"/>
</g>
</g>
<!-- ===== reflect icon ===== -->
<g transform="translate(60,1160) scale(0.166667)" fill="none" stroke="#119447" stroke-linecap="round">
<path d="M160 592 Q725 705 1295 590" stroke-width="38"/>
<path d="M352 165 L620 625 M452 165 L725 625 M697 165 L970 625" stroke-width="33"/>
<path d="M600 620 L400 525 M770 630 L900 505 M990 620 L1070 360" stroke-width="33" stroke-linecap="butt"/>
<g fill="#119447" stroke="none">
<path d="M328 495 L490 487 Q450 510 440 535 L425 612 Q415 570 328 495Z"/>
<path d="M942 463 L905 615 Q895 575 870 560 L785 512 Q850 510 942 463Z"/>
<path d="M1087 303 L1115 462 Q1090 425 1062 420 L965 412 Q1030 385 1087 303Z"/>
</g>
<g stroke="#a6d3bd" stroke-width="28">
<path d="M160 772 L212 716 M268 772 L320 716 M376 772 L428 716 M484 772 L536 716 M592 772 L644 716 M700 772 L752 716 M808 772 L860 716 M916 772 L968 716 M1024 772 L1076 716 M1132 772 L1184 716 M1236 772 L1288 716"/>
</g>
<path d="M170 935 Q725 850 1290 935" stroke-width="40" opacity="0.1" filter="url(#icoBlur)"/>
</g>
<!-- bands -->
<rect x="0" y="0" width="1500" height="19" fill="url(#bandTop)"/>
<rect x="0" y="738" width="1500" height="27" fill="url(#bandMid)"/>
<rect x="0" y="1484" width="1500" height="16" fill="url(#bandBot)"/>
</svg>
</body>
</html>
